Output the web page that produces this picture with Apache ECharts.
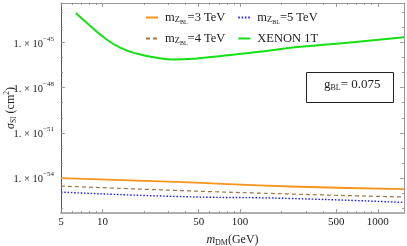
<!DOCTYPE html>
<html><head><meta charset="utf-8">
<script src="https://cdn.jsdelivr.net/npm/echarts@6/dist/echarts.min.js"></script>
<style>html,body{margin:0;padding:0;background:#fff}#c{width:407px;height:246px}</style>
</head><body><div id="c"></div>
<script>
// ---- data (sigma in cm^2, mass in GeV) ----
const massLines = [5, 34, 233, 1550];
const sigma3TeV = [1.0e-54, 5.5e-55, 2.75e-55, 1.86e-55];
const sigma4TeV = [2.95e-55, 1.51e-55, 8.7e-56, 5.5e-56];
const sigma5TeV = [1.17e-55, 6.0e-56, 4.4e-56, 2.4e-56];
const massXenon = [6.4, 7.9, 10.5, 13.8, 18.3, 24.2, 32.9, 48.6, 85, 150, 260, 450, 750, 1550];
const sigmaXenon = [9.1e-44, 1.62e-44, 1.82e-45, 4.0e-46, 1.7e-46, 1.02e-46, 7.4e-47, 8.7e-47, 1.45e-46, 2.63e-46, 5.0e-46, 7.6e-46, 1.17e-45, 2.24e-45];
const xLabelTicks = [5, 10, 50, 100, 500, 1000];
const xMinorTicks = [6,7,8,9,20,30,40,60,70,80,90,200,300,400,600,700,800,900];
const yLabelTicks = [1e-45, 1e-48, 1e-51, 1e-54];
const yMinorTicks = [1e-56,1e-55,1e-53,1e-52,1e-50,1e-49,1e-47,1e-46,1e-44,1e-43];
const xRange = [5, 1550];
const yRange = [Math.pow(10,-56.32), Math.pow(10,-42.38)];

// the chart works in units of 1e-50 cm^2 (ECharts rounds extents below 1e-20)
const UNIT_EXP = -50;
const toUnit = v => v * Math.pow(10, -UNIT_EXP);
const pair = (xs, ys) => xs.map((x, i) => [x, toUnit(ys[i])]);
const serif = 'Liberation Serif';
const chart = echarts.init(document.getElementById('c'));

function xAxisDef(pos, labels, ticks, len, showLine, lineStyle, extra) {
  return Object.assign({
    type: 'log', logBase: 10, position: pos, min: xRange[0], max: xRange[1],
    axisLine: {show: showLine, onZero: false, lineStyle: lineStyle},
    axisTick: {show: true, inside: true, length: len, customValues: ticks, lineStyle: {color: '#888', width: 0.8}},
    axisLabel: labels ? {show: true, customValues: labels, fontFamily: serif, fontSize: 11, color: '#222', margin: 4,
      formatter: v => String(Math.round(v))} : {show: false},
    splitLine: {show: false}, minorTick: {show: false}
  }, extra || {});
}
function yAxisDef(pos, labels, ticks, len, showLine, lineStyle, extra) {
  return Object.assign({
    type: 'log', logBase: 10, position: pos, min: toUnit(yRange[0]), max: toUnit(yRange[1]),
    axisLine: {show: showLine, onZero: false, lineStyle: lineStyle},
    axisTick: {show: true, inside: true, length: len, customValues: ticks.map(toUnit), lineStyle: {color: '#888', width: 0.8}},
    axisLabel: labels ? {show: true, customValues: labels.map(toUnit), margin: 7,
      formatter: v => '{a|1. × 10}{s|' + (Math.round(Math.log10(v)) + UNIT_EXP).toString().replace('-', '−') + '}',
      rich: {a: {fontFamily: serif, fontSize: 10.5, color: '#222', lineHeight: 14, verticalAlign: 'bottom'},
             s: {fontFamily: serif, fontSize: 7, color: '#222', lineHeight: 14, verticalAlign: 'top'}}} : {show: false},
    splitLine: {show: false}, minorTick: {show: false}
  }, extra || {});
}

const legendRich = {
  m: {fontFamily: serif, fontSize: 12.5, color: '#222', lineHeight: 18, verticalAlign: 'middle'},
  z: {fontFamily: serif, fontSize: 8.5, color: '#222', lineHeight: 9, verticalAlign: 'bottom', padding: [0,0,2,0]},
  b: {fontFamily: serif, fontSize: 6, color: '#222', lineHeight: 6, verticalAlign: 'bottom', padding: [0,0,1,0]},
  t: {fontFamily: serif, fontSize: 12.5, color: '#222', lineHeight: 18, verticalAlign: 'middle'}
};
function legendFmt(name) {
  if (name === 'XENON 1T') return '{t|XENON 1T}';
  return '{m|m}{z|Z}{b|BL}{t|' + name.replace('m', '') + '}';
}
const legendCommon = {left: 140, itemWidth: 12, itemHeight: 1, itemGap: 12, formatter: legendFmt,
  itemStyle: {opacity: 0}, textStyle: {rich: legendRich, padding: [0,0,0,2]}, selectedMode: false};

chart.setOption({
  animation: false,
  backgroundColor: '#fff',
  grid: {left: 61, right: 3, top: 3, bottom: 33, containLabel: false, outerBoundsMode: 'none'},
  xAxis: [
    xAxisDef('bottom', xLabelTicks, xLabelTicks, 4, true, {color: '#b0b0b0', width: 2},
      {name: '{i|m}{s|DM}{t|(GeV)}', nameLocation: 'middle', nameGap: 19, nameMoveOverlap: false,
       nameTextStyle: {rich: {
         i: {fontFamily: serif, fontStyle: 'italic', fontSize: 12, color: '#222', lineHeight: 16, verticalAlign: 'middle'},
         s: {fontFamily: serif, fontSize: 8, color: '#222', lineHeight: 8, verticalAlign: 'bottom', padding:[0,0,1,0]},
         t: {fontFamily: serif, fontSize: 12, color: '#222', lineHeight: 16, verticalAlign: 'middle'}}}}),
    xAxisDef('bottom', null, xMinorTicks, 2, false, {}),
    xAxisDef('top', null, xLabelTicks, 4, true, {color: '#999', width: 1}),
    xAxisDef('top', null, xMinorTicks, 2, false, {})
  ],
  yAxis: [
    yAxisDef('left', yLabelTicks, yLabelTicks, 4, true, {color: '#555', width: 1},
      {name: '{i|σ}{s|SI}{t| (cm}{p|2}{t|)}', nameLocation: 'middle', nameGap: 42, nameRotate: 90, nameMoveOverlap: false,
       nameTextStyle: {rich: {
         i: {fontFamily: serif, fontStyle: 'italic', fontSize: 12, color: '#222', lineHeight: 16, verticalAlign: 'middle'},
         s: {fontFamily: serif, fontSize: 7.5, color: '#222', lineHeight: 8, verticalAlign: 'bottom', padding:[0,0,1,0]},
         p: {fontFamily: serif, fontSize: 7.5, color: '#222', lineHeight: 8, verticalAlign: 'top'},
         t: {fontFamily: serif, fontSize: 12, color: '#222', lineHeight: 16, verticalAlign: 'middle'}}}}),
    yAxisDef('left', null, yMinorTicks, 2, false, {}),
    yAxisDef('right', null, yLabelTicks, 4, true, {color: '#999', width: 1}),
    yAxisDef('right', null, yMinorTicks, 2, false, {})
  ],
  legend: [
    Object.assign({top: 6, data: ['m=3 TeV', 'm=5 TeV']}, legendCommon),
    Object.assign({top: 27, data: ['m=4 TeV', 'XENON 1T']}, legendCommon)
  ],
  series: [
    {name: 'm=3 TeV', type: 'line', data: pair(massLines, sigma3TeV), symbol: 'none', smooth: true,
     lineStyle: {color: '#f7941d', width: 1.8}, itemStyle: {color: '#f7941d'}},
    {name: 'm=4 TeV', type: 'line', data: pair(massLines, sigma4TeV), symbol: 'none', smooth: true,
     lineStyle: {color: '#a07448', width: 1.2, type: [4, 3]}, itemStyle: {color: '#a07448'}},
    {name: 'm=5 TeV', type: 'line', data: pair(massLines, sigma5TeV), symbol: 'none', smooth: true,
     lineStyle: {color: '#1a1aff', width: 1.4, type: [1.5, 1.8]}, itemStyle: {color: '#1a1aff'}},
    {name: 'XENON 1T', type: 'line', data: pair(massXenon, sigmaXenon), symbol: 'none', smooth: true,
     lineStyle: {color: '#14e014', width: 2}, itemStyle: {color: '#14e014'}}
  ],
  graphic: [
    {type: 'rect', left: 306, top: 72, shape: {width: 87, height: 30}, style: {fill: '#fff', stroke: '#222', lineWidth: 1}, z: 10},
    {type: 'text', left: 324, top: 78, z: 11,
     style: {text: '{g|g}{s|BL}{t|= 0.075}', rich: {
       g: {fontFamily: serif, fontSize: 13, fill: '#222', lineHeight: 17, verticalAlign: 'middle'},
       s: {fontFamily: serif, fontSize: 8, fill: '#222', lineHeight: 8, verticalAlign: 'bottom', padding:[0,0,1,0]},
       t: {fontFamily: serif, fontSize: 13, fill: '#222', lineHeight: 17, verticalAlign: 'middle'}}}}
  ]
});
</script></body></html>
